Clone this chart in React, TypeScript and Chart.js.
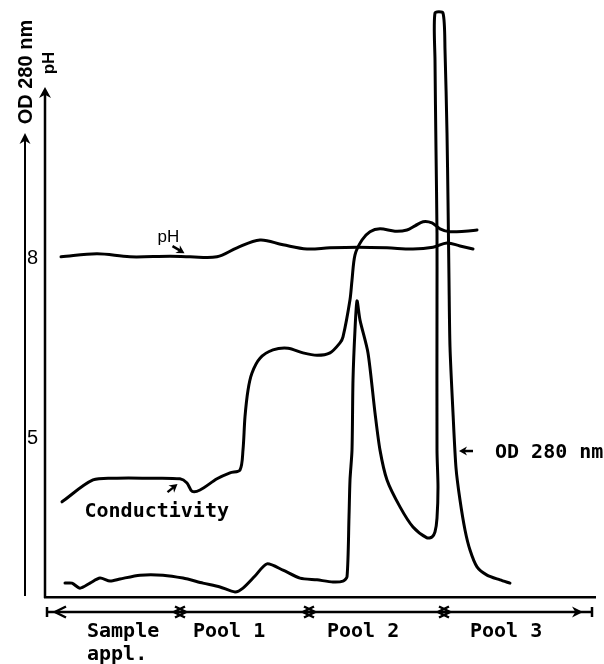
import React, { useEffect, useRef } from 'react';
import { Chart, registerables } from 'chart.js';

Chart.register(...registerables);

// ---- Data (x = fraction / elution volume, arbitrary units) ----
const odFraction = [4, 5.4, 7, 9, 11, 13, 15, 19, 23.6, 27.6, 31.6, 35, 38, 39.6, 42, 44.4, 47.6, 51, 54.4, 57.6, 59.6, 60.4, 60.8, 61, 61.4, 61.6, 62, 62.4, 63, 64.6, 66, 67, 68.4, 71, 73.6, 76.4, 77.4, 78, 78.4, 78.6, 78.4, 78.4, 78.4, 78.2, 78, 78, 79.6, 80, 80.4, 80.6, 80.8, 81, 81.6, 82.2, 83, 84, 85, 86.4, 88.4, 91, 93];
const odValues = [0.047, 0.047, 0.03, 0.047, 0.064, 0.054, 0.061, 0.074, 0.074, 0.064, 0.047, 0.034, 0.017, 0.03, 0.071, 0.112, 0.091, 0.064, 0.058, 0.051, 0.054, 0.068, 0.271, 0.396, 0.497, 0.734, 0.904, 1.002, 0.937, 0.826, 0.623, 0.497, 0.396, 0.305, 0.237, 0.2, 0.203, 0.22, 0.267, 0.372, 0.497, 1.005, 1.232, 1.513, 1.817, 1.976, 1.976, 1.851, 1.57, 1.343, 1.073, 0.846, 0.623, 0.437, 0.328, 0.227, 0.159, 0.102, 0.074, 0.058, 0.047];

const condFraction = [3.4, 9.6, 14.4, 20.4, 27, 28.4, 29.4, 31, 34.4, 37, 39, 39.6, 40, 40.6, 41.4, 43, 45.6, 48.6, 51.6, 54.4, 57, 59, 59.6, 61, 61.4, 62, 63.4, 65, 67, 70, 72.4, 74, 75.6, 77.4, 79, 81, 84, 86.4];
const condValues = [16.1, 19.8, 20.1, 20.1, 20.0, 19.3, 17.9, 18.1, 20.0, 21.0, 21.5, 24.9, 30.5, 35.0, 37.9, 40.4, 41.8, 42.1, 41.3, 40.9, 41.3, 43.0, 44.0, 50.3, 53.6, 57.9, 60.4, 61.8, 62.3, 61.9, 62.1, 62.8, 63.5, 63.3, 62.3, 61.8, 61.9, 62.1];

const phFraction = [3.2, 10.4, 17, 25, 29, 34.4, 38.4, 43, 47.6, 52.4, 57, 62.6, 68.4, 73.6, 77.6, 80.4, 83, 85.6];
const phValues = [8.02, 8.07, 8.02, 8.03, 8.02, 8.02, 8.17, 8.3, 8.22, 8.15, 8.17, 8.18, 8.17, 8.15, 8.18, 8.25, 8.2, 8.15];

const phTicks = [5, 8];

const poolNames = [['Sample', 'appl.'], ['Pool 1'], ['Pool 2'], ['Pool 3']];
const poolBounds = [0.4, 27, 52.8, 79.8, 109.4];
const poolLabelX = [8.4, 29.6, 56.4, 85];

// axis extents (values at the arrow tips)
const OD_AXIS_END = 1.57;
const PH_AXIS_END = 10.85;

const MONO = 'bold 20px "DejaVu Sans Mono", "Liberation Mono", monospace';
const SANS = '"Liberation Sans", Arial, sans-serif';

function arrowHead(ctx: CanvasRenderingContext2D, tx: number, ty: number, angle: number, len: number, half: number) {
  const c = Math.cos(angle), s = Math.sin(angle);
  ctx.beginPath();
  ctx.moveTo(tx, ty);
  ctx.lineTo(tx - len * c + half * s, ty - len * s - half * c);
  ctx.lineTo(tx - len * c * 0.7, ty - len * s * 0.7);
  ctx.lineTo(tx - len * c - half * s, ty - len * s + half * c);
  ctx.closePath();
  ctx.fill();
}

function seg(ctx: CanvasRenderingContext2D, x1: number, y1: number, x2: number, y2: number) {
  ctx.beginPath();
  ctx.moveTo(x1, y1);
  ctx.lineTo(x2, y2);
  ctx.stroke();
}

const axisDecor = {
  id: 'axisDecor',
  afterDraw(chart: any) {
    const ctx: CanvasRenderingContext2D = chart.ctx;
    const { y, y1 } = chart.scales;
    const bottom = chart.chartArea.bottom;
    ctx.save();
    ctx.strokeStyle = '#000';
    ctx.fillStyle = '#000';
    // OD axis
    const odX = y1.right;
    const odTop = y1.getPixelForValue(OD_AXIS_END);
    ctx.lineWidth = 2;
    seg(ctx, odX, bottom - 1, odX, odTop + 4);
    arrowHead(ctx, odX, odTop, -Math.PI / 2, 11, 5.5);
    // pH axis
    const phX = y.right;
    const phTop = y.getPixelForValue(PH_AXIS_END);
    ctx.lineWidth = 2.5;
    seg(ctx, phX, bottom + 1, phX, phTop + 4);
    arrowHead(ctx, phX, phTop, -Math.PI / 2, 11, 6);
    // rotated titles
    ctx.textAlign = 'center';
    ctx.textBaseline = 'alphabetic';
    ctx.save();
    ctx.translate(odX + 7, odTop - 61);
    ctx.rotate(-Math.PI / 2);
    ctx.font = 'bold 20px ' + SANS;
    ctx.fillText('OD 280 nm', 0, 0);
    ctx.restore();
    ctx.save();
    ctx.translate(phX + 9, phTop - 24);
    ctx.rotate(-Math.PI / 2);
    ctx.font = 'bold 17px ' + SANS;
    ctx.fillText('pH', 0, 0);
    ctx.restore();
    ctx.restore();
  },
};

const poolPlugin = {
  id: 'pools',
  afterDraw(chart: any) {
    const ctx: CanvasRenderingContext2D = chart.ctx;
    const xs = chart.scales.x;
    const yb = chart.chartArea.bottom + 15;
    const px = poolBounds.map((v) => xs.getPixelForValue(v));
    const first = px[0];
    const last = px[px.length - 1];
    ctx.save();
    ctx.strokeStyle = '#000';
    ctx.fillStyle = '#000';
    ctx.lineWidth = 2.5;
    seg(ctx, first, yb, last, yb);
    seg(ctx, first, yb - 5, first, yb + 5);
    seg(ctx, last, yb - 5, last, yb + 5);
    const chev = (tip: number, dir: number) => {
      ctx.beginPath();
      ctx.moveTo(tip - dir * 11, yb - 5.5);
      ctx.lineTo(tip, yb);
      ctx.lineTo(tip - dir * 11, yb + 5.5);
      ctx.stroke();
    };
    chev(first + 8, -1);
    for (let i = 1; i < px.length - 1; i++) {
      chev(px[i] + 6, 1);
      chev(px[i] - 6, -1);
    }
    arrowHead(ctx, last - 9, yb, 0, 11, 5.5);
    ctx.font = MONO;
    ctx.textAlign = 'left';
    ctx.textBaseline = 'alphabetic';
    poolNames.forEach((lines, i) => {
      const lx = xs.getPixelForValue(poolLabelX[i]);
      lines.forEach((t, j) => ctx.fillText(t, lx, yb + 25 + j * 23));
    });
    ctx.restore();
  },
};

const annotPlugin = {
  id: 'annots',
  afterDraw(chart: any) {
    const ctx: CanvasRenderingContext2D = chart.ctx;
    const { x, y, y1, y2 } = chart.scales;
    ctx.save();
    ctx.strokeStyle = '#000';
    ctx.fillStyle = '#000';
    ctx.lineWidth = 2.5;
    const arrow = (tx: number, ty: number, dx: number, dy: number) => {
      const ang = Math.atan2(-dy, -dx);
      seg(ctx, tx + dx, ty + dy, tx + Math.cos(ang) * -4, ty + Math.sin(ang) * -4);
      arrowHead(ctx, tx, ty, ang, 8, 4.5);
    };
    // pH
    let tx = x.getPixelForValue(27.9), ty = y.getPixelForValue(8.08);
    arrow(tx, ty, -12, -7);
    ctx.font = '17px ' + SANS;
    ctx.textAlign = 'left';
    ctx.fillText('pH', tx - 27, ty - 11);
    // Conductivity
    tx = x.getPixelForValue(26.5); ty = y2.getPixelForValue(19.1);
    arrow(tx, ty, -10, 8);
    ctx.font = MONO;
    ctx.fillText('Conductivity', tx - 93, ty + 33);
    // OD 280 nm
    tx = x.getPixelForValue(82.8); ty = y1.getPixelForValue(0.494);
    arrow(tx, ty, 14, 0);
    ctx.fillText('OD 280 nm', tx + 36, ty + 7);
    ctx.restore();
  },
};

const pts = (xs: number[], vs: number[]) => xs.map((v, i) => ({ x: v, y: vs[i] }));

const noPad = (s: any) => { s.paddingTop = 0; s.paddingBottom = 0; s.paddingLeft = 0; s.paddingRight = 0; };

export default function App() {
  const ref = useRef<HTMLCanvasElement>(null);
  useEffect(() => {
    const canvas = ref.current;
    if (!canvas) return;
    const lineStyle = {
      borderColor: '#000',
      borderWidth: 3,
      pointRadius: 0,
      fill: false,
      borderCapStyle: 'round',
      borderJoinStyle: 'round',
    };
    const chart = new Chart(canvas, {
      type: 'line',
      data: {
        datasets: [
          { label: 'OD 280 nm', data: pts(odFraction, odValues), yAxisID: 'y1', tension: 0.25, ...lineStyle },
          { label: 'Conductivity', data: pts(condFraction, condValues), yAxisID: 'y2', tension: 0.3, ...lineStyle },
          { label: 'pH', data: pts(phFraction, phValues), yAxisID: 'y', tension: 0.35, ...lineStyle },
        ] as any,
      },
      options: {
        animation: false,
        responsive: false,
        events: [],
        layout: { padding: { left: 5, right: 9, top: 6, bottom: 67 } },
        plugins: { legend: { display: false }, tooltip: { enabled: false } },
        scales: {
          x: {
            type: 'linear',
            min: 0,
            max: 110,
            grid: { display: false, drawTicks: false },
            ticks: { display: false },
            border: { display: true, color: '#000', width: 2.5 },
            afterFit: (s: any) => { s.height = 0; noPad(s); },
          },
          y1: {
            position: 'left',
            weight: 2,
            min: 0,
            max: 2,
            grid: { display: false, drawTicks: false },
            ticks: { display: false },
            border: { display: false },
            afterFit: (s: any) => { s.width = 20; noPad(s); },
          },
          y: {
            position: 'left',
            weight: 1,
            min: 2.35,
            max: 12.2,
            grid: { display: false, drawTicks: false },
            border: { display: false },
            ticks: { color: '#000', font: { family: SANS, size: 20 }, padding: 7 },
            afterBuildTicks: (s: any) => { s.ticks = phTicks.map((v) => ({ value: v })); },
            afterFit: (s: any) => { s.width = 20; noPad(s); },
          },
          y2: { display: false, min: 0, max: 100 },
        },
      } as any,
      plugins: [axisDecor, poolPlugin, annotPlugin],
    });
    return () => chart.destroy();
  }, []);
  return (
    <div style={{ position: 'fixed', left: 0, top: 0, width: 604, height: 664, background: '#fff' }}>
      <canvas ref={ref} width={604} height={664} style={{ display: 'block', width: 604, height: 664 }} />
    </div>
  );
}
